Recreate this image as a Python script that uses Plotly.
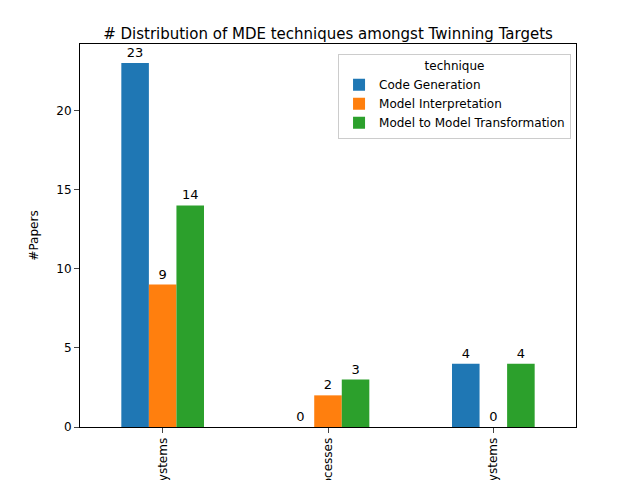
import plotly.graph_objects as go

targets = ["Physical Systems", "Processes", "Cyber-Physical Systems"]
code_generation = [23, 0, 4]
model_interpretation = [9, 2, 0]
model_to_model = [14, 3, 4]

series = [
    ("Code Generation", code_generation, "#1f77b4"),
    ("Model Interpretation", model_interpretation, "#ff7f0e"),
    ("Model to Model Transformation", model_to_model, "#2ca02c"),
]

fig = go.Figure()
for name, vals, color in series:
    fig.add_trace(go.Bar(
        x=targets, y=vals, name=name, marker_color=color, marker_line_width=0,
        text=[str(v) for v in vals], textposition="outside",
        textfont=dict(size=13, color="black"), cliponaxis=False,
    ))

fig.update_layout(
    width=640, height=480,
    margin=dict(l=72, r=72, t=36, b=61),
    barmode="group", bargap=0.5, bargroupgap=0,
    plot_bgcolor="white", paper_bgcolor="white",
    font=dict(family="DejaVu Sans", size=12, color="black"),
    title=dict(text="# Distribution of MDE techniques amongst Twinning Targets",
               x=0.5, xanchor="center", y=0.935, yanchor="bottom",
               font=dict(size=15)),
    legend=dict(title=dict(text="technique", side="top center", font=dict(size=12)),
                x=0.99, y=0.975, xanchor="right", yanchor="top",
                bordercolor="#cccccc", borderwidth=1, bgcolor="white",
                font=dict(size=12)),
    uniformtext=dict(minsize=13, mode="show"),
)
fig.update_xaxes(showline=True, linecolor="black", mirror=True, ticks="outside",
                 tickangle=-90, automargin=False, tickfont=dict(size=12))
fig.update_yaxes(range=[0, 24.2], showline=True, linecolor="black", mirror=True,
                 ticks="outside", dtick=5, showgrid=False, zeroline=False,
                 title=dict(text="#Papers", font=dict(size=12)), tickfont=dict(size=12))

fig.write_html("out.html")
